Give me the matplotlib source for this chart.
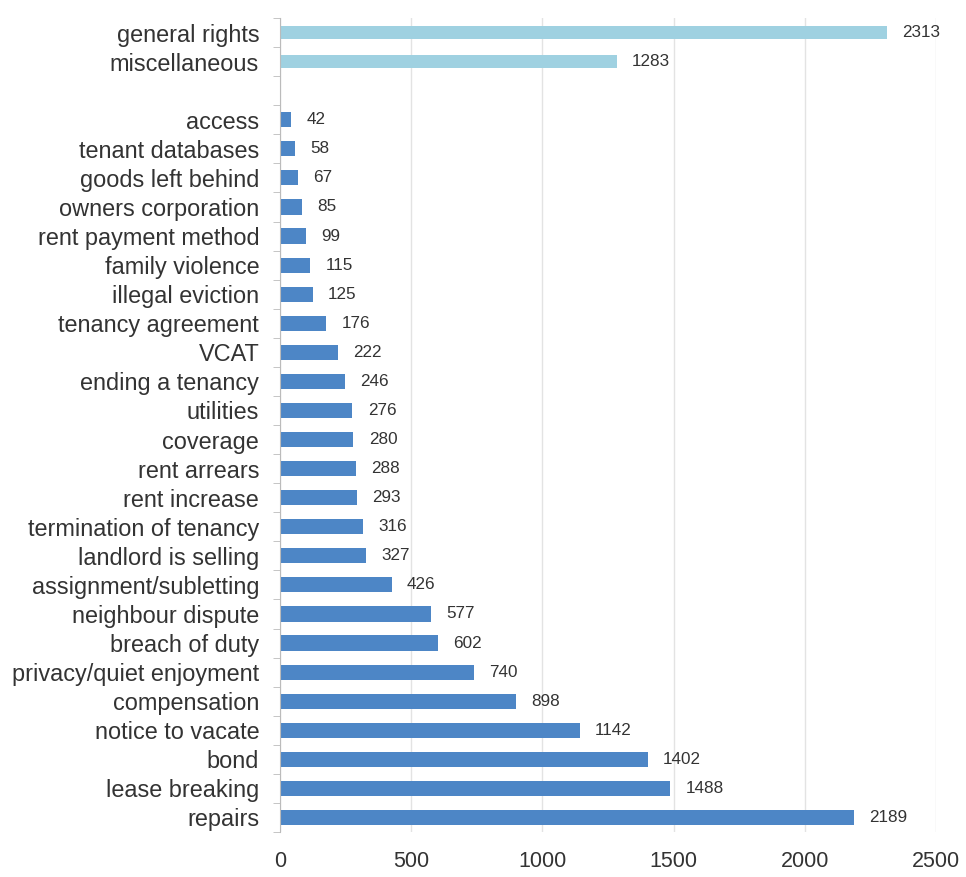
import matplotlib
matplotlib.use("Agg")
import matplotlib.pyplot as plt
import numpy as np

plt.rcParams['font.family'] = ['Liberation Sans', 'DejaVu Sans']

top_categories = ["general rights", "miscellaneous"]
top_values = [2313, 1283]

main_categories = ["access", "tenant databases", "goods left behind", "owners corporation",
                   "rent payment method", "family violence", "illegal eviction",
                   "tenancy agreement", "VCAT", "ending a tenancy", "utilities", "coverage",
                   "rent arrears", "rent increase", "termination of tenancy",
                   "landlord is selling", "assignment/subletting", "neighbour dispute",
                   "breach of duty", "privacy/quiet enjoyment", "compensation",
                   "notice to vacate", "bond", "lease breaking", "repairs"]
main_values = [42, 58, 67, 85, 99, 115, 125, 176, 222, 246, 276, 280, 288, 293, 316,
               327, 426, 577, 602, 740, 898, 1142, 1402, 1488, 2189]

x_ticks = [0, 500, 1000, 1500, 2000, 2500]

light_color = "#9fd1e1"
dark_color = "#4d86c6"

fig = plt.figure(figsize=(9.66, 8.77), dpi=100)
ax = fig.add_axes([280/966, 1 - 832/877, (936-280)/966, (832-18)/877])

n_slots = len(top_categories) + 1 + len(main_categories)
top_pos = np.arange(len(top_categories))
main_pos = np.arange(len(main_categories)) + len(top_categories) + 1

ax.barh(top_pos, top_values, height=0.45, color=light_color, zorder=3)
ax.barh(main_pos, main_values, height=0.52, color=dark_color, zorder=3)

for p, v in zip(top_pos, top_values):
    ax.text(v + 58, p, str(v), va='center', ha='left', fontsize=12.3, color='#333333')
for p, v in zip(main_pos, main_values):
    ax.text(v + 58, p, str(v), va='center', ha='left', fontsize=12.3, color='#333333')

ax.set_ylim(n_slots - 0.5, -0.5)
ax.set_xlim(0, 2500)
ax.set_yticks(list(top_pos) + list(main_pos))
ax.set_yticklabels(top_categories + main_categories, fontsize=16.9, color='#333333')
ax.set_yticks(np.arange(n_slots + 1) - 0.5, minor=True)
ax.tick_params(axis='y', which='major', length=0, pad=15)
ax.tick_params(axis='y', which='minor', length=5, color='#bbbbbb', direction='out')
ax.set_xticks(x_ticks)
ax.set_xticklabels([str(t) for t in x_ticks], fontsize=15.5, color='#333333')
ax.tick_params(axis='x', length=0, pad=14)

ax.grid(axis='x', color='#e3e3e3', linewidth=1, zorder=0)
for s in ['top', 'right', 'bottom']:
    ax.spines[s].set_visible(False)
ax.spines['left'].set_color('#bbbbbb')
ax.spines['left'].set_zorder(4)

fig.savefig("out.png", dpi=100)
